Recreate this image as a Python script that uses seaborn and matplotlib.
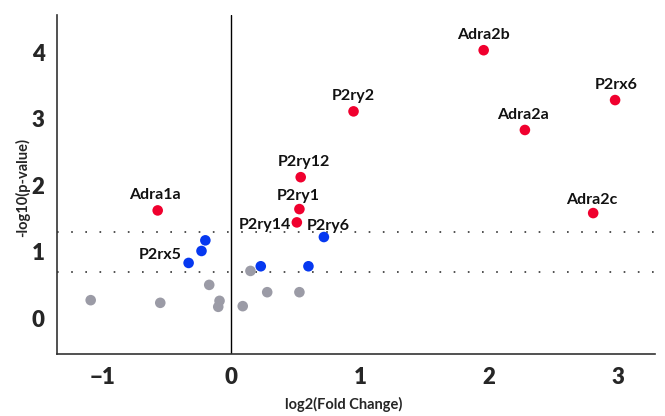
import matplotlib.pyplot as plt
import pandas as pd
import seaborn as sns

# Receptor genes, log2 fold change and -log10 p-value
genes = ["Adra2b", "P2rx6", "P2ry2", "Adra2a", "Adra2c", "P2ry12", "P2ry1",
         "P2ry14", "Adra1a",
         "P2ry6", "", "", "P2rx5", "", "",
         "", "", "", "", "", "", "", "", ""]
log2fc = [1.96, 2.98, 0.95, 2.28, 2.81, 0.54, 0.53, 0.51, -0.57,
          0.72, -0.20, -0.23, -0.33, 0.23, 0.60,
          0.15, -0.17, -1.09, -0.55, -0.09, -0.10, 0.09, 0.28, 0.53]
neglogp = [4.03, 3.28, 3.11, 2.83, 1.58, 2.12, 1.64, 1.44, 1.62,
           1.22, 1.17, 1.01, 0.83, 0.78, 0.78,
           0.71, 0.50, 0.27, 0.23, 0.26, 0.17, 0.18, 0.39, 0.39]
group = ["sig"] * 9 + ["trend"] * 6 + ["ns"] * 9

thresholds = [1.30, 0.70]
colors = {"sig": "#f0002e", "trend": "#0638f0", "ns": "#9b9ba6"}

# label offsets in pixels (dx, dy, ha)
label_pos = {
    "Adra2b": (0, 15, "center"), "P2rx6": (1, 15, "center"),
    "P2ry2": (0, 15, "center"), "Adra2a": (-2, 15, "center"),
    "Adra2c": (-1, 13, "center"), "P2ry12": (3, 15, "center"),
    "P2ry1": (-1, 13, "center"), "Adra1a": (-3, 15, "center"),
    "P2ry14": (-6, -3, "right"), "P2ry6": (4, 11, "center"),
    "P2rx5": (-7, 8, "right"),
}

df = pd.DataFrame({"gene": genes, "log2fc": log2fc, "neglogp": neglogp,
                   "group": group})

sns.set_style("white")
plt.rcParams["font.family"] = ["Lato", "DejaVu Sans"]

fig = plt.figure(figsize=(6.65, 4.16), dpi=100)
ax = fig.add_axes([0.086, 0.149, 0.899, 0.815])

sns.scatterplot(data=df, x="log2fc", y="neglogp", hue="group", palette=colors,
                s=58, edgecolor="none", legend=False, ax=ax, zorder=3)

for t in thresholds:
    ax.axhline(t, color="#333333", linestyle=(0, (1, 7.5)), linewidth=1.2, zorder=1)
ax.axvline(0, color="black", linewidth=1.0, zorder=1)

for g, x, y in zip(genes, log2fc, neglogp):
    if g in label_pos:
        dx, dy, ha = label_pos[g]
        ax.annotate(g, (x, y), xytext=(dx, dy), textcoords="offset pixels",
                    ha=ha, va="center", fontsize=11.5, fontweight="bold",
                    color="#111111")

ax.set_xlim(-1.35, 3.29)
ax.set_ylim(-0.54, 4.56)
ax.set_xticks([-1, 0, 1, 2, 3])
ax.set_yticks([0, 1, 2, 3, 4])
ax.tick_params(axis="both", labelsize=16, length=0, pad=9)
for lab in ax.get_xticklabels() + ax.get_yticklabels():
    lab.set_fontweight("heavy")

ax.set_xlabel("log2(Fold Change)", fontsize=10.5, fontweight="bold", va="center")
ax.set_ylabel("-log10(p-value)", fontsize=10.5, fontweight="bold", va="center")
ax.xaxis.set_label_coords(0.48, -0.15)
ax.yaxis.set_label_coords(-0.058, 0.49)

sns.despine(ax=ax)
for side in ["left", "bottom"]:
    ax.spines[side].set_color("#333333")
    ax.spines[side].set_linewidth(1.2)

fig.savefig("out.png", dpi=100)
